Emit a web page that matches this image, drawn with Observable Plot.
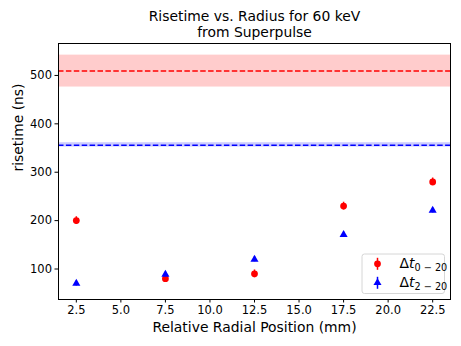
<!DOCTYPE html>
<html>
<head>
<meta charset="utf-8">
<script src="https://cdn.jsdelivr.net/npm/d3@7"></script>
<script src="https://cdn.jsdelivr.net/npm/@observablehq/plot@0.6"></script>
<style>
  html, body { margin: 0; padding: 0; background: #fff; }
</style>
</head>
<body>
<div id="chart"></div>
<script>
const radius = [2.5, 7.5, 12.5, 17.5, 22.5];
const dt020 = [200, 80, 90, 230, 280];
const dt020Err = [8, 7, 8, 8, 8];
const dt220 = [70, 89, 120, 171, 221];
const dt220Err = [5, 5, 5, 5, 5];
const superRed = 509, superRedLo = 476, superRedHi = 542;
const superBlue = 356, superBlueLo = 352, superBlueHi = 361;
const xTicks = [2.5, 5, 7.5, 10, 12.5, 15, 17.5, 20, 22.5];
const yTicks = [100, 200, 300, 400, 500];
const titleLines = ["Risetime vs. Radius for 60 keV", "from Superpulse"];

const red = radius.map((x, i) => ({x, y: dt020[i], e: dt020Err[i]}));
const blue = radius.map((x, i) => ({x, y: dt220[i], e: dt220Err[i]}));

const FONT = "'DejaVu Sans', sans-serif";

const plot = Plot.plot({
  width: 461,
  height: 346,
  marginLeft: 58,
  marginRight: 11,
  marginTop: 43,
  marginBottom: 47,
  style: {fontFamily: FONT, fontSize: "11.5px", color: "black", background: "white"},
  x: {domain: [1.5, 23.5], ticks: xTicks, tickFormat: d3.format(".1f")},
  y: {domain: [37, 566], ticks: yTicks},
  marks: [
    Plot.rect([{a: superRedLo, b: superRedHi}], {y1: "a", y2: "b", fill: "red", fillOpacity: 0.2}),
    Plot.rect([{a: superBlueLo, b: superBlueHi}], {y1: "a", y2: "b", fill: "blue", fillOpacity: 0.2}),
    Plot.ruleY([superRed], {stroke: "red", strokeWidth: 1.5, strokeDasharray: "5.5,2.4"}),
    Plot.ruleY([superBlue], {stroke: "blue", strokeWidth: 1.5, strokeDasharray: "5.5,2.4"}),
    Plot.ruleX(red, {x: "x", y1: d => d.y - d.e, y2: d => d.y + d.e, stroke: "red", strokeWidth: 1.5}),
    Plot.dot(red, {x: "x", y: "y", r: 3.4, fill: "red", stroke: "none"}),
    Plot.ruleX(blue, {x: "x", y1: d => d.y - d.e, y2: d => d.y + d.e, stroke: "blue", strokeWidth: 1.5}),
    Plot.dot(blue, {x: "x", y: "y", r: 3.0, symbol: "triangle", fill: "blue", stroke: "none"}),
    Plot.frame({stroke: "black", strokeWidth: 1}),
    Plot.axisX({ticks: xTicks, tickFormat: d3.format(".1f"), tickSize: 3.5, tickPadding: 3, fontSize: 11.5, label: null}),
    Plot.axisY({ticks: yTicks, tickSize: 3.5, tickPadding: 3, fontSize: 11.5, label: null}),
    Plot.text(["Relative Radial Position (mm)"], {frameAnchor: "bottom", lineAnchor: "middle", dy: 28, fontSize: 13.9, text: d => d, fill: "black"}),
    Plot.text(["risetime (ns)"], {frameAnchor: "left", lineAnchor: "middle", dx: -40, rotate: -90, fontSize: 13.9, text: d => d, fill: "black"}),
    Plot.text([titleLines.join("\n")], {frameAnchor: "top", lineAnchor: "middle", lineHeight: 1.18, dy: -19.8, fontSize: 13.9, text: d => d, fill: "black"})
  ]
});

document.getElementById("chart").appendChild(plot);

// Legend (matplotlib-style box, lower right)
const svg = d3.select(plot);
const legendItems = [
  {color: "red", sym: "circle", sub: "0 − 20"},
  {color: "blue", sym: "triangle", sub: "2 − 20"}
];
const g = svg.append("g").attr("transform", "translate(361.5,253.5)")
  .attr("text-anchor", "start").style("font-family", FONT);
g.append("rect").attr("x", 0.5).attr("y", 0.5).attr("width", 82.5).attr("height", 39.5).attr("rx", 2.5)
  .attr("fill", "white").attr("fill-opacity", 0.8).attr("stroke", "#d6d6d6");
legendItems.forEach((it, i) => {
  const cy = 10.3 + i * 19;
  const gg = g.append("g").attr("transform", `translate(16,${cy})`);
  gg.append("line").attr("y1", -6).attr("y2", 6).attr("stroke", it.color).attr("stroke-width", 1.5);
  gg.append("path").attr("d", d3.symbol(it.sym === "circle" ? d3.symbolCircle : d3.symbolTriangle, it.sym === "circle" ? 36 : 28)())
    .attr("fill", it.color);
  const t = g.append("text").attr("x", 38).attr("y", cy + 4.3).attr("font-size", 13.9).attr("fill", "black");
  t.append("tspan").text("Δ");
  t.append("tspan").attr("font-style", "italic").text("t");
  t.append("tspan").attr("font-size", 9.7).attr("dy", 2.5).text(it.sub);
});
</script>
</body>
</html>
